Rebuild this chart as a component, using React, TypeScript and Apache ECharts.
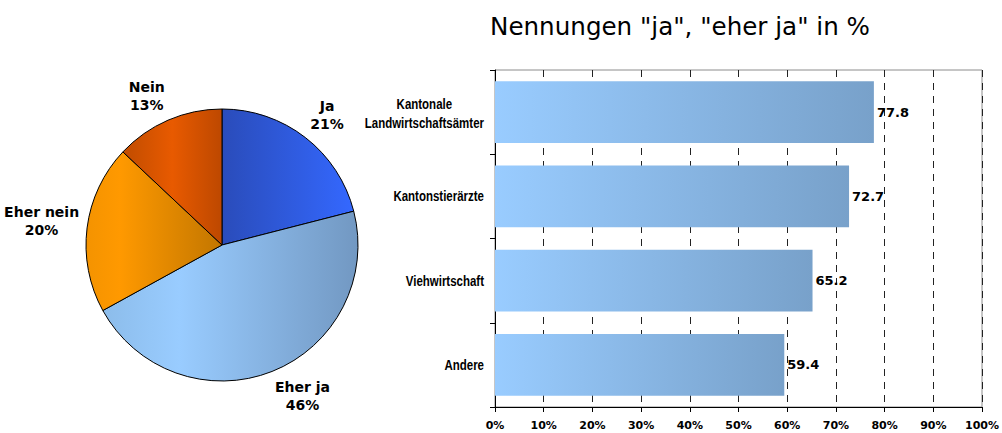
import React, { useEffect, useRef } from "react";
import * as echarts from "echarts";

const pieNames = ["Ja", "Eher ja", "Eher nein", "Nein"];
const pieValues = [21, 46, 20, 13];

const barCategories = ["Kantonale\nLandwirtschaftsämter", "Kantonstierärzte", "Viehwirtschaft", "Andere"];
const barValues = [77.8, 72.7, 65.2, 59.4];

const titleText = 'Nennungen "ja", "eher ja" in %';

const xMin = 0;
const xMax = 100;
const xInterval = 10;

const PIE_CX = 222;
const PIE_CY = 245;
const PIE_R = 136;
const LABEL_R = 144;

const CAT_FONT_FAMILY = "Liberation Sans";
const CAT_FONT_SIZE = 14;
const CAT_SCALE_X = 0.82;
const CAT_RIGHT = 484;

const grad = (stops: [number, string][]) =>
  new echarts.graphic.LinearGradient(0, 0, 1, 0, stops.map(([offset, color]) => ({ offset, color })));

const pieColors = [
  grad([[0, "#2a4cba"], [1, "#3468ff"]]),
  grad([[0, "#8cbcea"], [0.3, "#99ccff"], [1, "#7298c2"]]),
  grad([[0, "#f49300"], [0.25, "#ff9900"], [1, "#c27600"]]),
  grad([[0, "#c04c00"], [0.5, "#e85a00"], [1, "#bd4800"]]),
];

const measure = (text: string, font: string) => {
  const ctx = document.createElement("canvas").getContext("2d");
  if (!ctx) return text.length * 7;
  ctx.font = font;
  return ctx.measureText(text).width;
};

const App = () => {
  const ref = useRef<HTMLDivElement>(null);
  useEffect(() => {
    if (!ref.current) return;
    const chart = echarts.init(ref.current, undefined, { renderer: "svg" });
    const total = pieValues.reduce((a, b) => a + b, 0);
    const cum: number[] = [];
    pieValues.reduce((acc, v, i) => {
      cum[i] = acc;
      return acc + v;
    }, 0);

    const option: any = {
      animation: false,
      title: {
        text: titleText,
        left: 485,
        top: 9,
        textStyle: { fontFamily: "DejaVu Sans", fontSize: 24.6, fontWeight: "normal", color: "#000" },
      },
      grid: {
        left: 495,
        right: 19,
        top: 70,
        bottom: 26,
        show: true,
        borderColor: "#8c8c8c",
        borderWidth: 1,
        backgroundColor: "transparent",
      },
      xAxis: {
        type: "value",
        min: xMin,
        max: xMax,
        interval: xInterval,
        axisLine: { show: true, lineStyle: { color: "#000", width: 1 } },
        axisTick: { show: true, length: 5, lineStyle: { color: "#000" } },
        axisLabel: {
          formatter: "{value}%",
          margin: 13,
          fontFamily: "DejaVu Sans",
          fontWeight: "bold",
          fontSize: 11,
          color: "#000",
        },
        splitLine: { show: true, lineStyle: { color: "#222", type: [7, 6], width: 1 } },
      },
      yAxis: {
        type: "category",
        inverse: true,
        data: barCategories,
        axisLine: { show: true, lineStyle: { color: "#000", width: 1 } },
        axisTick: { show: true, length: 5, lineStyle: { color: "#000" } },
        axisLabel: { show: false },
      },
      series: [
        {
          type: "bar",
          data: barValues,
          barCategoryGap: "27%",
          itemStyle: { color: grad([[0, "#99ccff"], [1, "#78a1ca"]]) },
          label: {
            show: true,
            position: "right",
            distance: 3,
            formatter: (p: any) => Number(p.value).toFixed(1),
            fontFamily: "DejaVu Sans",
            fontWeight: "bold",
            fontSize: 13,
            color: "#000",
          },
          emphasis: { disabled: true },
        },
        {
          type: "pie",
          center: [PIE_CX, PIE_CY],
          radius: PIE_R,
          startAngle: 90,
          clockwise: true,
          avoidLabelOverlap: false,
          data: pieNames.map((name, i) => ({
            name,
            value: pieValues[i],
            itemStyle: { color: pieColors[i] },
          })),
          itemStyle: { borderColor: "#000", borderWidth: 1 },
          label: {
            show: true,
            position: "outside",
            formatter: (p: any) => `${p.name}\n${p.value}%`,
            fontFamily: "DejaVu Sans",
            fontWeight: "bold",
            fontSize: 14,
            lineHeight: 18,
            color: "#000",
            align: "center",
          },
          labelLine: { show: false },
          labelLayout: (p: any) => {
            const i = p.dataIndex;
            const mid = ((cum[i] + pieValues[i] / 2) / total) * 2 * Math.PI;
            const dx = Math.sin(mid);
            const dy = -Math.cos(mid);
            const hw = p.labelRect.width / 2;
            const hh = p.labelRect.height / 2;
            return {
              x: PIE_CX + LABEL_R * dx + hw * Math.sign(dx),
              y: PIE_CY + LABEL_R * dy + hh * Math.sign(dy) * Math.sqrt(Math.abs(dy)),
              align: "center",
              verticalAlign: "middle",
            };
          },
          emphasis: { disabled: true },
        },
      ],
    };
    chart.setOption(option);

    const font = `bold ${CAT_FONT_SIZE}px "${CAT_FONT_FAMILY}"`;
    const catGraphics = barCategories.map((cat, i) => {
      const y = chart.convertToPixel({ yAxisIndex: 0 }, i) as number;
      const lines = cat.split("\n");
      const maxW = Math.max(...lines.map((l) => measure(l, font)));
      const multi = lines.length > 1;
      return {
        type: "text",
        x: multi ? CAT_RIGHT - (maxW * CAT_SCALE_X) / 2 : CAT_RIGHT,
        y: y + (multi ? 1 : 0),
        scaleX: CAT_SCALE_X,
        silent: true,
        style: {
          text: cat,
          x: 0,
          y: 0,
          align: multi ? "center" : "right",
          verticalAlign: "middle",
          fontFamily: CAT_FONT_FAMILY,
          fontWeight: "bold",
          fontSize: CAT_FONT_SIZE,
          lineHeight: 19,
          fill: "#000",
        },
      };
    });
    chart.setOption({ graphic: catGraphics });

    return () => chart.dispose();
  }, []);
  return (
    <div
      ref={ref}
      style={{ position: "fixed", left: 0, top: 0, width: 1002, height: 433, background: "#fff" }}
    />
  );
};

export default App;
